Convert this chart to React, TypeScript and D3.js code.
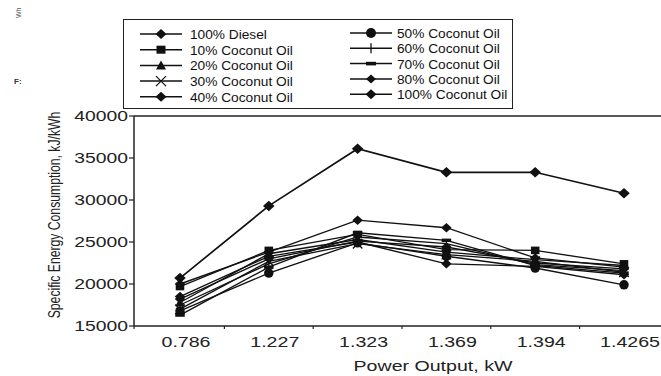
import React from "react";
import * as d3 from "d3";

const categories = ["0.786", "1.227", "1.323", "1.369", "1.394", "1.4265"];
const yTicks = [15000, 20000, 25000, 30000, 35000, 40000];

const seriesNames = [
  "100% Diesel",
  "10% Coconut Oil",
  "20% Coconut Oil",
  "30% Coconut Oil",
  "40% Coconut Oil",
  "50% Coconut Oil",
  "60% Coconut Oil",
  "70% Coconut Oil",
  "80% Coconut Oil",
  "100% Coconut Oil",
];
const seriesMarkers = ["diamond", "square", "triangle", "cross", "diamond", "circle", "plus", "dash", "diamond", "diamond"];

const diesel = [18500, 23300, 25000, 22400, 22100, 21100];
const co10 = [19700, 24000, 25900, 24100, 24000, 22400];
const co20 = [17800, 23600, 25300, 23800, 22900, 22200];
const co30 = [17000, 22700, 24800, 23500, 22700, 21400];
const co40 = [18200, 23000, 25100, 24400, 22500, 21800];
const co50 = [16800, 21300, 24900, 23300, 21900, 19900];
const co60 = [17500, 22400, 25600, 24800, 22300, 21600];
const co70 = [16300, 22000, 26100, 25200, 22200, 21300];
const co80 = [20000, 23800, 27600, 26700, 23100, 22000];
const co100 = [20700, 29300, 36100, 33300, 33300, 30800];

const seriesValues = [diesel, co10, co20, co30, co40, co50, co60, co70, co80, co100];

const FONT = "Arial, 'Liberation Sans', Helvetica, sans-serif";

function Marker({ type, x, y, s = 1 }: { type: string; x: number; y: number; s?: number }) {
  const k = s;
  switch (type) {
    case "diamond":
      return <path d={`M${x},${y - 5 * k}L${x + 5.5 * k},${y}L${x},${y + 5 * k}L${x - 5.5 * k},${y}Z`} fill="#111" />;
    case "square":
      return <rect x={x - 4.5 * k} y={y - 4 * k} width={9 * k} height={8 * k} fill="#111" />;
    case "triangle":
      return <path d={`M${x},${y - 5 * k}L${x + 5 * k},${y + 4 * k}L${x - 5 * k},${y + 4 * k}Z`} fill="#111" />;
    case "cross":
      return (
        <path
          d={`M${x - 5 * k},${y - 5 * k}L${x + 5 * k},${y + 5 * k}M${x - 5 * k},${y + 5 * k}L${x + 5 * k},${y - 5 * k}`}
          stroke="#111"
          strokeWidth={1.3}
        />
      );
    case "circle":
      return <circle cx={x} cy={y} r={5 * k} fill="#111" />;
    case "plus":
      return <path d={`M${x},${y - 5 * k}L${x},${y + 5 * k}`} stroke="#111" strokeWidth={1.3} />;
    case "dash":
      return <rect x={x - 5 * k} y={y - 1.8 * k} width={10 * k} height={3.6 * k} fill="#111" />;
    default:
      return null;
  }
}

export default function App() {
  const W = 661;
  const H = 376;
  const plotLeft = 134;
  const plotTop = 116;
  const plotBottom = 326;
  const plotRight = 668;

  const x = d3.scalePoint<string>().domain(categories).range([180, 624]);
  const y = d3.scaleLinear().domain([15000, 40000]).range([plotBottom, plotTop]);

  const line = d3
    .line<number>()
    .x((_, i) => x(categories[i]) as number)
    .y((d) => y(d));

  const step = x.step();
  const xTickPos = [plotLeft, ...categories.slice(0, -1).map((c) => (x(c) as number) + step / 2)];

  const legendCols = [
    { lineX0: 140, lineX1: 182, textX: 190, y0: 34, dy: 15.7 },
    { lineX0: 350, lineX1: 392, textX: 397, y0: 33, dy: 15.3 },
  ];

  return (
    <svg width={W} height={H} style={{ position: "absolute", left: 0, top: 0, background: "#fff" }}>
      <rect x={0} y={0} width={W} height={H} fill="#fff" />

      {/* stray fragments at the top left */}
      <text transform="translate(21,18) rotate(-90)" fontFamily={FONT} fontSize={7} fill="#555">
        Wh
      </text>
      <text x={14} y={84} fontFamily={FONT} fontSize={8} fontWeight="bold" fill="#333">
        F:
      </text>

      {/* legend */}
      <rect x={123.5} y={19.5} width={389} height={89} fill="#fff" stroke="#222" strokeWidth={1} />
      {seriesNames.map((name, i) => {
        const col = legendCols[i < 5 ? 0 : 1];
        const row = i % 5;
        const ly = col.y0 + row * col.dy;
        const mx = (col.lineX0 + col.lineX1) / 2;
        return (
          <g key={name}>
            <line x1={col.lineX0} x2={col.lineX1} y1={ly} y2={ly} stroke="#111" strokeWidth={1.5} />
            <Marker type={seriesMarkers[i]} x={mx} y={ly} s={i === 8 ? 0.9 : 1} />
            <text x={col.textX} y={ly} dy="0.36em" fontFamily={FONT} fontSize={13.7} fill="#111">
              {name}
            </text>
          </g>
        );
      })}

      {/* frame */}
      <line x1={plotLeft} x2={plotRight} y1={plotTop} y2={plotTop} stroke="#222" strokeWidth={1.3} />
      <line x1={plotLeft} x2={plotLeft} y1={plotTop} y2={plotBottom} stroke="#222" strokeWidth={1.5} />
      <line x1={plotLeft} x2={plotRight} y1={plotBottom} y2={plotBottom} stroke="#222" strokeWidth={1.5} />

      {/* y ticks */}
      {yTicks.map((t) => (
        <g key={t}>
          <line x1={plotLeft - 5} x2={plotLeft} y1={y(t)} y2={y(t)} stroke="#222" strokeWidth={1.2} />
          <text
            transform={`translate(${plotLeft - 6},${y(t)}) scale(1.38,1)`}
            dy="0.36em"
            textAnchor="end"
            fontFamily={FONT}
            fontSize={14}
            fill="#222"
          >
            {t}
          </text>
        </g>
      ))}

      {/* x ticks */}
      {xTickPos.map((p, i) => (
        <line key={i} x1={p} x2={p} y1={plotBottom} y2={plotBottom + 3} stroke="#222" strokeWidth={1.2} />
      ))}
      {categories.map((c) => (
        <text
          key={c}
          transform={`translate(${(x(c) as number) + 6},347) scale(1.4,1)`}
          textAnchor="middle"
          fontFamily={FONT}
          fontSize={14}
          fill="#222"
        >
          {c}
        </text>
      ))}

      {/* axis titles */}
      <text
        transform="translate(433,371) scale(1.4,1)"
        textAnchor="middle"
        fontFamily={FONT}
        fontSize={14}
        fill="#222"
      >
        Power Output, kW
      </text>
      <text
        transform="translate(60,215) rotate(-90) scale(1,1.4)"
        textAnchor="middle"
        fontFamily={FONT}
        fontSize={12.2}
        fill="#222"
      >
        Specific Energy Consumption, kJ/kWh
      </text>

      {/* series */}
      {seriesValues.map((vals, si) => (
        <g key={si}>
          <path d={line(vals) as string} fill="none" stroke="#111" strokeWidth={si === 9 ? 1.7 : 1.35} />
          {vals.map((v, i) => (
            <Marker key={i} type={seriesMarkers[si]} x={x(categories[i]) as number} y={y(v)} s={si === 9 ? 1.05 : 0.95} />
          ))}
        </g>
      ))}
    </svg>
  );
}
